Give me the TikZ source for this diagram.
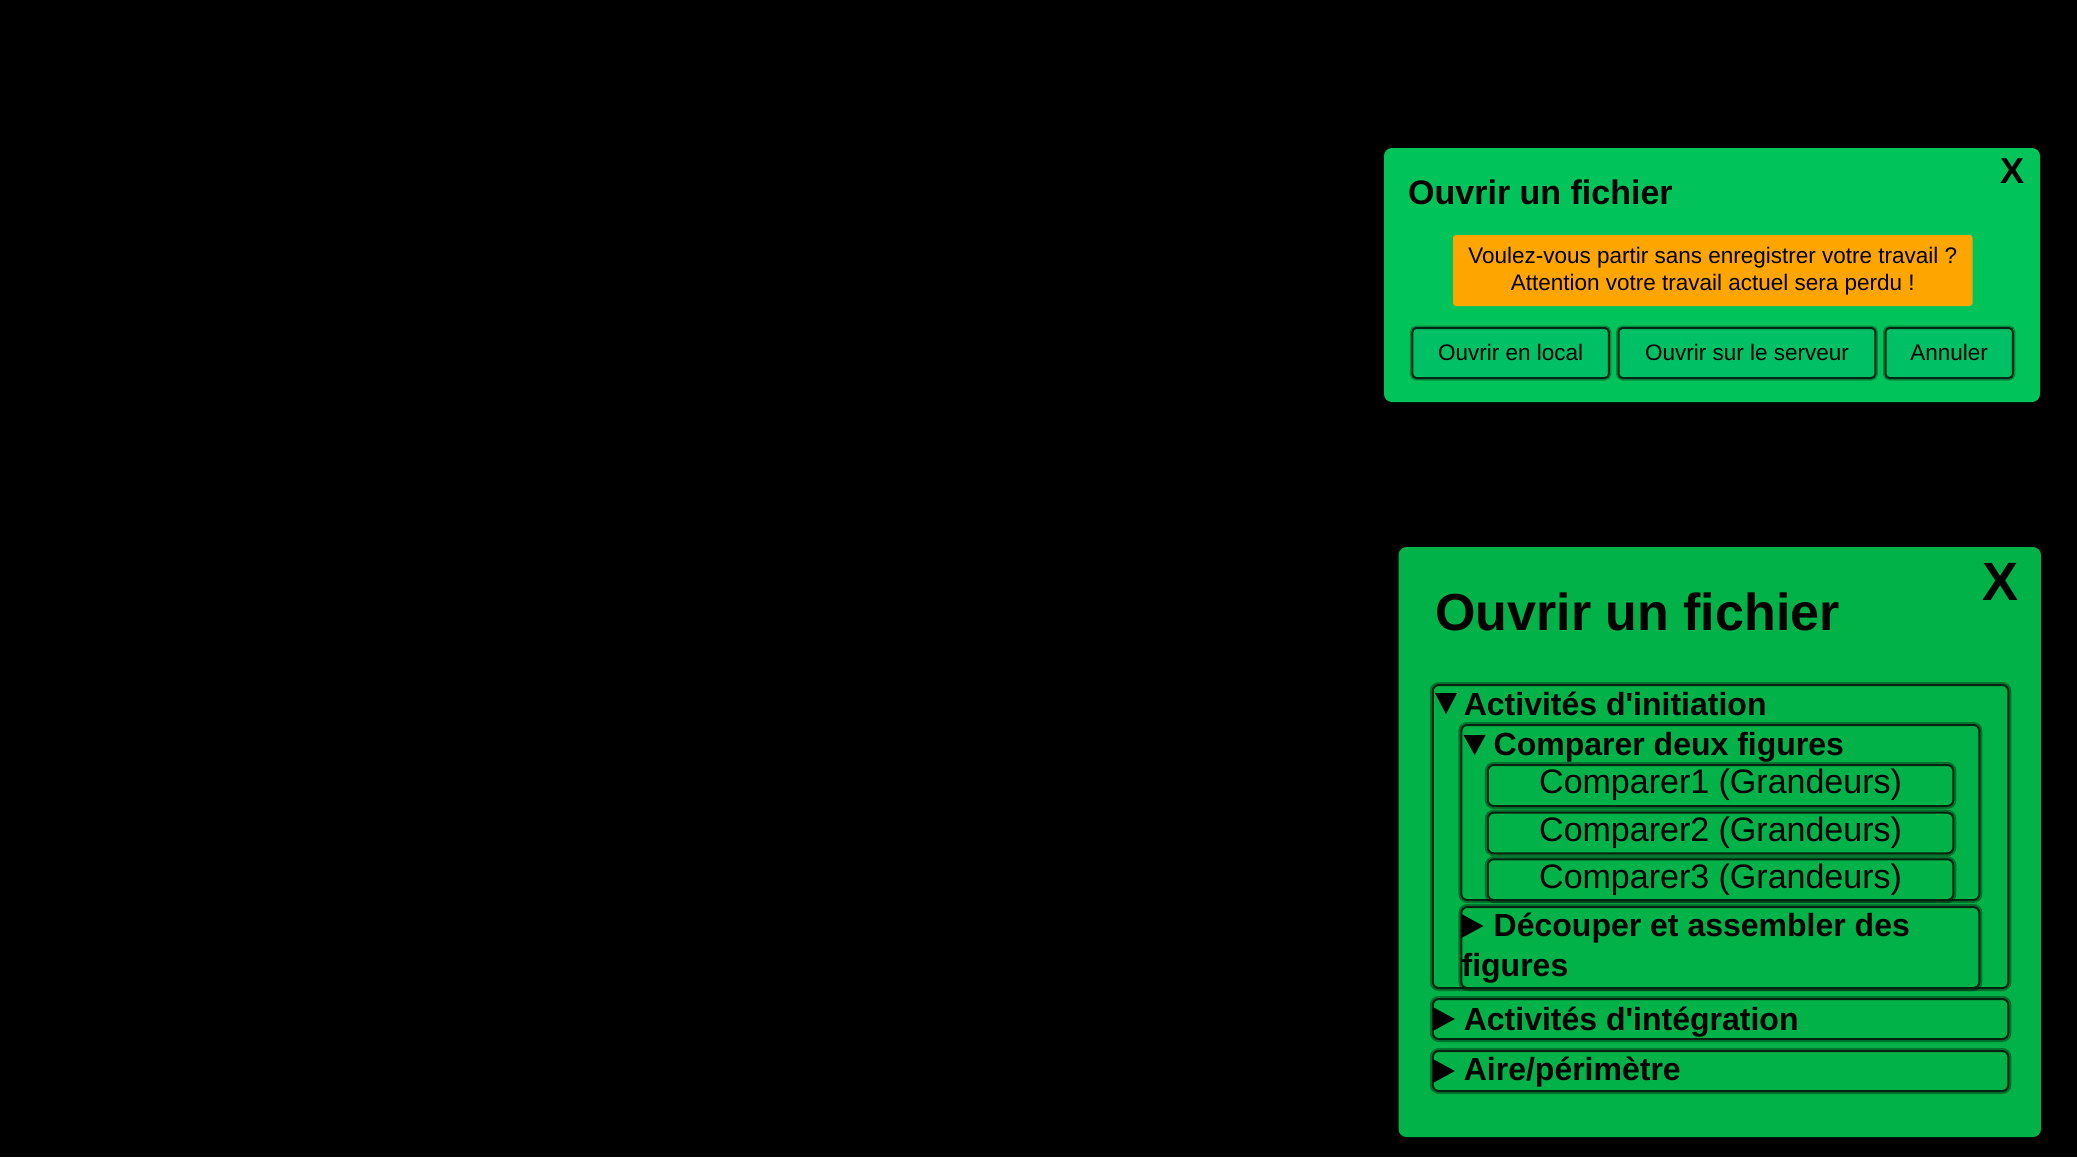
\documentclass[tikz,border=0pt]{standalone}
\usepackage{fontspec}
\setmainfont{Liberation Sans}
\definecolor{panelA}{HTML}{00C35A}
\definecolor{panelB}{HTML}{00B247}
\definecolor{btngreen}{HTML}{00C066}
\definecolor{warnorange}{HTML}{FFA500}

\begin{document}
\begin{tikzpicture}[x=1pt,y=-1pt,
    panelbox/.style={rounded corners=8pt},
    btnbox/.style={fill=btngreen, draw=black!80!btngreen, line width=2pt, rounded corners=4pt,
      preaction={draw=black, line width=5pt, opacity=0.3}},
    foldbox/.style={fill=panelB, draw=black!80!panelB, line width=2pt, rounded corners=6pt,
      preaction={draw=black, line width=6pt, opacity=0.35}},
    txt/.style={anchor=base, inner sep=0pt},
    sumtxt/.style={anchor=base west, inner sep=0pt, font=\bfseries\fontsize{32}{38}\selectfont}]

          \fill [black] (0,0) rectangle (2077,1157); % background

          % small dialog
          \fill [panelA, panelbox] (1384,148) rectangle (2040,402); % Draws a rectangle
          \node [anchor=base west, inner sep=0pt, font=\bfseries\fontsize{34}{40}\selectfont] (titleA) at (1408,204) {Ouvrir un fichier};
          \node [anchor=base east, inner sep=0pt, font=\bfseries\fontsize{36}{40}\selectfont] (closeA) at (2025,183) {X};

          \fill [warnorange, rounded corners=3pt] (1453,235) rectangle (1972.6,306); % Draws a rectangle
          \node [txt, font=\fontsize{22.5}{26}\selectfont] (warnA) at (1712.8,263.3) {Voulez-vous partir sans enregistrer votre travail ?};
          \node [txt, font=\fontsize{22.5}{26}\selectfont] (warnB) at (1712.8,290.7) {Attention votre travail actuel sera perdu !};

          \draw [btnbox] (1412.4,328) rectangle (1608.8,378); % Draws a rectangle
          \draw [btnbox] (1618.6,328) rectangle (1875.3,378); % Draws a rectangle
          \draw [btnbox] (1885.6,328) rectangle (2012.8,378); % Draws a rectangle
          \node [txt, font=\fontsize{22.5}{26}\selectfont] (btnlocal) at (1510.6,360.7) {Ouvrir en local};
          \node [txt, font=\fontsize{22.5}{26}\selectfont] (btnserver) at (1747,360.7) {Ouvrir sur le serveur};
          \node [txt, font=\fontsize{22.5}{26}\selectfont] (btncancel) at (1949.2,360.7) {Annuler};

          % large dialog
          \fill [panelB, panelbox] (1398.5,547) rectangle (2041,1137); % Draws a rectangle
          \node [anchor=base west, inner sep=0pt, font=\bfseries\fontsize{52}{60}\selectfont] (titleB) at (1435,630) {Ouvrir un fichier};
          \node [anchor=base east, inner sep=0pt, font=\bfseries\fontsize{54}{60}\selectfont] (closeB) at (2019,600) {X};

          \draw [foldbox] (1432.8,685) rectangle (2008.3,988); % Draws a rectangle
          \fill (1435,693) -- (1457,693) -- (1446,714) -- cycle;
          \node [sumtxt] (initiation) at (1463.6,715) {Activités d\textquotesingle initiation};

          \draw [foldbox] (1461.4,725) rectangle (1979.3,900); % Draws a rectangle
          \fill (1463.6,735) -- (1485.6,735) -- (1474.6,755) -- cycle;
          \node [sumtxt] (comparer) at (1493.5,755) {Comparer deux figures};

          \draw [foldbox] (1487.8,765) rectangle (1953.3,806); % Draws a rectangle
          \draw [foldbox] (1487.8,812.7) rectangle (1953.3,853.3); % Draws a rectangle
          \draw [foldbox] (1487.8,859.3) rectangle (1953.3,900); % Draws a rectangle
          \node [txt, font=\fontsize{34}{40}\selectfont] (compA) at (1720.6,793.3) {Comparer1 (Grandeurs)};
          \node [txt, font=\fontsize{34}{40}\selectfont] (compB) at (1720.6,841) {Comparer2 (Grandeurs)};
          \node [txt, font=\fontsize{34}{40}\selectfont] (compC) at (1720.6,888.3) {Comparer3 (Grandeurs)};

          \draw [foldbox] (1461.4,907) rectangle (1979.3,988); % Draws a rectangle
          \fill (1461.4,914) -- (1483.4,926) -- (1461.4,938) -- cycle;
          \node [sumtxt] (decouper) at (1493.5,936.7) {Découper et assembler des};
          \node [sumtxt] (decouperB) at (1461.4,976.7) {figures};

          \draw [foldbox] (1432.8,999) rectangle (2008.3,1039); % Draws a rectangle
          \fill (1432.8,1007) -- (1454.8,1019) -- (1432.8,1031) -- cycle;
          \node [sumtxt] (integration) at (1463.6,1030) {Activités d\textquotesingle intégration};

          \draw [foldbox] (1432.8,1051) rectangle (2008.3,1091); % Draws a rectangle
          \fill (1432.8,1059) -- (1454.8,1071) -- (1432.8,1083) -- cycle;
          \node [sumtxt] (aire) at (1463.6,1080) {Aire/périmètre};
        \end{tikzpicture}
\end{document}
